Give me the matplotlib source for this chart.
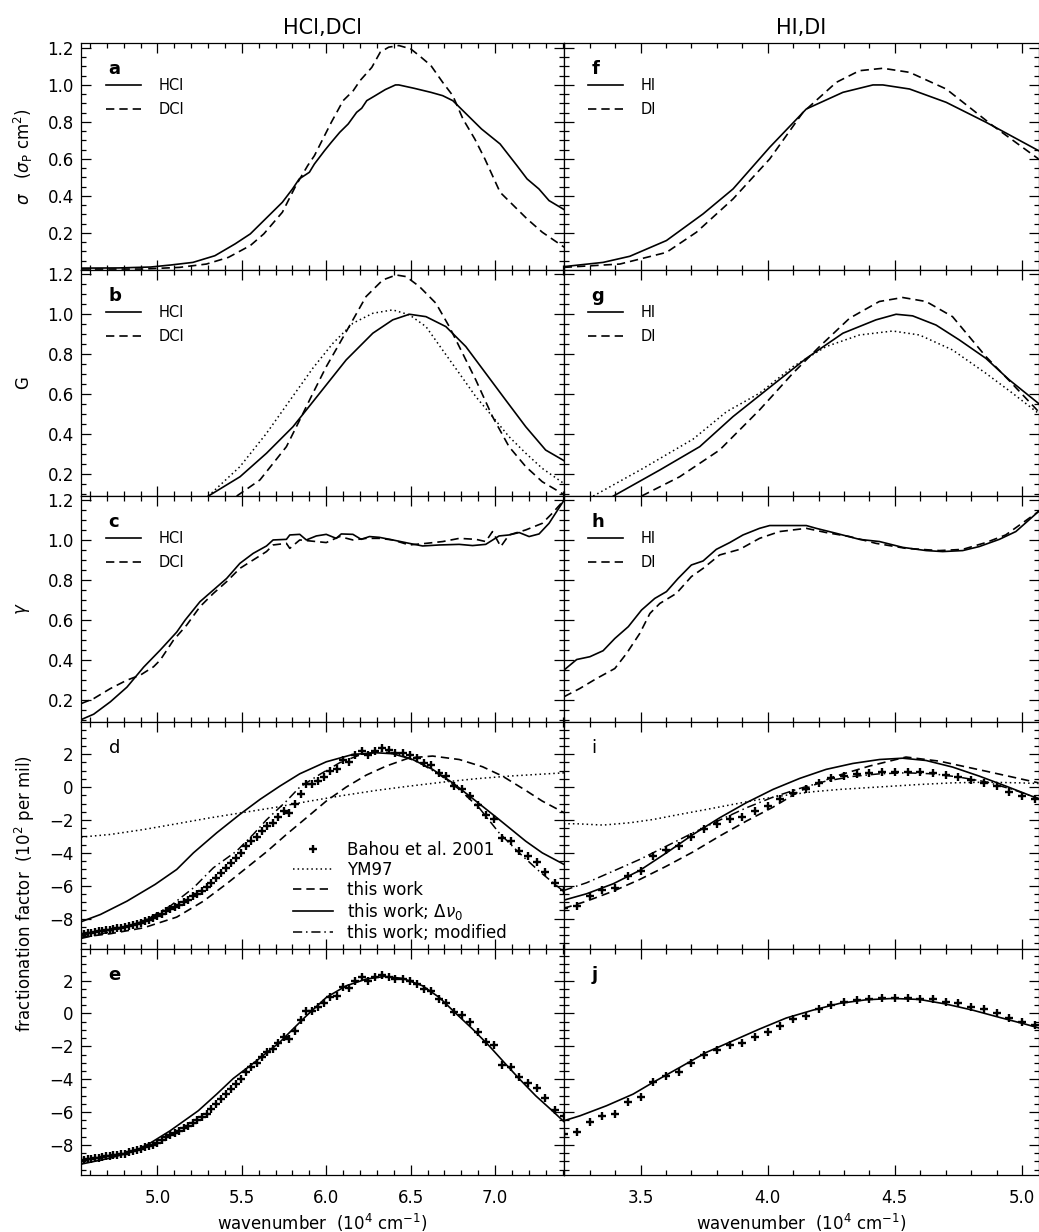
"""Photoabsorption cross sections, Gaussian fits, isotope ratios and
fractionation factors for HCl/DCl and HI/DI (ten stacked panels a-j).

Run:
    python plot.py      -> out.png
"""

import matplotlib
matplotlib.use("Agg")  # headless, no display
import matplotlib.pyplot as plt  # noqa: E402
from matplotlib.lines import Line2D  # noqa: E402
from matplotlib.ticker import FixedLocator, MultipleLocator  # noqa: E402

# ---------------------------------------------------------------- data
# wavenumbers in 1e4 cm^-1

# (a) cross sections, HCl / DCl
sig_hcl_x = [4.55, 4.77, 4.96, 5.08, 5.21, 5.34, 5.46, 5.55, 5.65, 5.74, 5.80, 5.84,
             5.90, 5.93, 5.99, 6.03, 6.08, 6.13, 6.18, 6.21, 6.24, 6.29, 6.35, 6.41,
             6.43, 6.52, 6.62, 6.69, 6.75, 6.81, 6.92, 7.03, 7.13, 7.19, 7.26, 7.32, 7.41]
sig_hcl_y = [0.01, 0.011, 0.016, 0.027, 0.041, 0.077, 0.141, 0.195, 0.285, 0.366, 0.438,
             0.492, 0.528, 0.573, 0.645, 0.690, 0.744, 0.789, 0.852, 0.874, 0.915, 0.942,
             0.975, 1.0, 1.0, 0.982, 0.96, 0.942, 0.915, 0.861, 0.762, 0.681, 0.564,
             0.492, 0.438, 0.375, 0.326]
sig_dcl_x = [4.55, 4.91, 5.13, 5.29, 5.42, 5.55, 5.63, 5.74, 5.82, 5.89, 5.93, 5.98,
             6.03, 6.10, 6.16, 6.20, 6.27, 6.32, 6.37, 6.43, 6.50, 6.55, 6.62, 6.69,
             6.75, 6.81, 6.88, 6.94, 7.03, 7.11, 7.19, 7.28, 7.41]
sig_dcl_y = [0.005, 0.005, 0.014, 0.032, 0.068, 0.132, 0.195, 0.312, 0.456, 0.564, 0.618,
             0.708, 0.798, 0.915, 0.969, 1.023, 1.095, 1.177, 1.204, 1.213, 1.195, 1.159,
             1.105, 1.014, 0.942, 0.816, 0.708, 0.600, 0.420, 0.348, 0.276, 0.204, 0.123]

# (f) cross sections, HI / DI
sig_hi_x = [3.198, 3.353, 3.458, 3.602, 3.746, 3.864, 4.008, 4.152, 4.296, 4.414,
            4.453, 4.558, 4.702, 4.859, 5.065]
sig_hi_y = [0.018, 0.041, 0.074, 0.159, 0.303, 0.438, 0.663, 0.870, 0.960, 1.0,
            1.0, 0.978, 0.906, 0.798, 0.645]
sig_di_x = [3.198, 3.419, 3.602, 3.720, 3.864, 4.008, 4.139, 4.270, 4.361, 4.453,
            4.558, 4.702, 4.885, 5.065]
sig_di_y = [0.014, 0.032, 0.095, 0.204, 0.384, 0.600, 0.852, 1.014, 1.077, 1.090,
            1.068, 0.978, 0.780, 0.600]

# (b) G, HCl / DCl / YM97
g_hcl_x = [5.301, 5.489, 5.646, 5.803, 5.961, 6.118, 6.276, 6.394, 6.493, 6.591,
           6.709, 6.827, 6.945, 7.063, 7.182, 7.300, 7.41]
g_hcl_y = [0.088, 0.185, 0.303, 0.436, 0.604, 0.771, 0.905, 0.972, 1.0, 0.988,
           0.938, 0.838, 0.704, 0.570, 0.436, 0.319, 0.265]
g_dcl_x = [5.469, 5.607, 5.764, 5.843, 5.921, 6.000, 6.079, 6.158, 6.236, 6.335, 6.414,
           6.473, 6.552, 6.650, 6.729, 6.808, 6.886, 6.985, 7.083, 7.182, 7.280, 7.41]
g_dcl_y = [0.088, 0.169, 0.336, 0.470, 0.604, 0.737, 0.854, 0.972, 1.089, 1.172, 1.197,
           1.189, 1.139, 1.055, 0.938, 0.804, 0.671, 0.487, 0.336, 0.236, 0.160, 0.095]
g_ym_hcl_x = [5.301, 5.489, 5.646, 5.803, 5.921, 6.039, 6.158, 6.276, 6.394, 6.493,
              6.591, 6.689, 6.788, 6.886, 6.985, 7.083, 7.182, 7.280, 7.41]
g_ym_hcl_y = [0.088, 0.236, 0.403, 0.590, 0.730, 0.854, 0.955, 1.005, 1.022, 0.997,
              0.938, 0.821, 0.704, 0.587, 0.487, 0.386, 0.303, 0.227, 0.15]

# (g) G, HI / DI / YM97
g_hi_x = [3.393, 3.576, 3.733, 3.864, 3.995, 4.152, 4.296, 4.426, 4.505, 4.570,
          4.662, 4.754, 4.858, 4.950, 5.065]
g_hi_y = [0.088, 0.219, 0.336, 0.487, 0.620, 0.779, 0.905, 0.972, 1.0, 0.992,
          0.946, 0.871, 0.779, 0.671, 0.553]
g_di_x = [3.504, 3.654, 3.811, 3.968, 4.099, 4.204, 4.322, 4.439, 4.531, 4.623,
          4.727, 4.858, 4.950, 5.065]
g_di_y = [0.088, 0.185, 0.319, 0.520, 0.704, 0.838, 0.980, 1.064, 1.084, 1.064,
          0.988, 0.788, 0.667, 0.512]
g_ym_hi_x = [3.314, 3.510, 3.707, 3.838, 3.968, 4.099, 4.230, 4.361, 4.492, 4.597,
             4.727, 4.858, 4.963, 5.065]
g_ym_hi_y = [0.088, 0.227, 0.374, 0.511, 0.604, 0.737, 0.838, 0.896, 0.916, 0.896,
             0.821, 0.704, 0.604, 0.503]

# (c) gamma, HCl / DCl
gam_hcl_x = [4.548, 4.622, 4.721, 4.819, 4.918, 5.016, 5.114, 5.164, 5.252, 5.331,
             5.410, 5.488, 5.567, 5.646, 5.685, 5.764, 5.784, 5.843, 5.882, 5.941,
             6.000, 6.059, 6.089, 6.158, 6.207, 6.256, 6.315, 6.394, 6.492, 6.571,
             6.670, 6.788, 6.867, 6.945, 7.024, 7.083, 7.143, 7.202, 7.261, 7.320, 7.41]
gam_hcl_y = [0.103, 0.130, 0.192, 0.265, 0.365, 0.450, 0.540, 0.600, 0.692, 0.750,
             0.808, 0.883, 0.933, 0.970, 1.0, 1.003, 1.025, 1.028, 1.0, 1.02,
             1.028, 1.008, 1.03, 1.028, 1.003, 1.017, 1.013, 1.0, 0.983, 0.970,
             0.975, 0.978, 0.972, 0.978, 1.02, 1.025, 1.037, 1.017, 1.03, 1.083, 1.2]
gam_dcl_x = [4.548, 4.622, 4.721, 4.819, 4.898, 4.977, 5.016, 5.095, 5.173, 5.252,
             5.331, 5.410, 5.488, 5.567, 5.646, 5.685, 5.764, 5.784, 5.843, 5.941,
             6.000, 6.079, 6.158, 6.237, 6.315, 6.394, 6.492, 6.591, 6.690, 6.788,
             6.887, 6.945, 6.985, 7.034, 7.083, 7.182, 7.280, 7.339, 7.41]
gam_dcl_y = [0.183, 0.208, 0.258, 0.300, 0.325, 0.367, 0.400, 0.500, 0.575, 0.667,
             0.733, 0.792, 0.858, 0.900, 0.942, 0.975, 0.983, 0.958, 1.0, 0.992,
             0.987, 1.017, 1.0, 1.008, 1.008, 1.0, 0.975, 0.983, 0.992, 1.008,
             1.003, 0.992, 1.042, 0.967, 1.025, 1.05, 1.083, 1.133, 1.2]

# (h) gamma, HI / DI
gam_hi_x = [3.199, 3.249, 3.301, 3.353, 3.399, 3.452, 3.504, 3.556, 3.602, 3.648,
            3.700, 3.746, 3.798, 3.851, 3.903, 3.968, 4.008, 4.073, 4.152, 4.191,
            4.270, 4.361, 4.440, 4.531, 4.623, 4.688, 4.767, 4.832, 4.911, 4.976, 5.065]
gam_hi_y = [0.35, 0.403, 0.417, 0.447, 0.508, 0.567, 0.65, 0.708, 0.742, 0.808,
            0.875, 0.895, 0.953, 0.987, 1.025, 1.058, 1.072, 1.072, 1.072, 1.058,
            1.033, 1.003, 0.992, 0.963, 0.947, 0.942, 0.947, 0.967, 1.003, 1.042, 1.142]
gam_di_x = [3.199, 3.261, 3.327, 3.399, 3.445, 3.497, 3.537, 3.576, 3.641, 3.700,
            3.746, 3.811, 3.890, 3.968, 4.047, 4.152, 4.230, 4.322, 4.426, 4.544,
            4.675, 4.767, 4.858, 4.936, 5.065]
gam_di_y = [0.217, 0.258, 0.308, 0.358, 0.433, 0.533, 0.633, 0.683, 0.733, 0.817,
            0.858, 0.925, 0.953, 1.008, 1.042, 1.058, 1.037, 1.017, 0.983, 0.958,
            0.947, 0.953, 0.987, 1.025, 1.142]

# Bahou et al. 2001 fractionation factors (10^2 per mil), HCl side
bahou_hcl_x = [4.545, 4.566, 4.587, 4.608, 4.630, 4.651, 4.673, 4.695, 4.717, 4.739,
               4.762, 4.785, 4.808, 4.831, 4.854, 4.878, 4.902, 4.926, 4.950, 4.975,
               5.000, 5.025, 5.051, 5.076, 5.102, 5.128, 5.155, 5.181, 5.208, 5.236,
               5.263, 5.291, 5.319, 5.348, 5.376, 5.405, 5.435, 5.464, 5.495, 5.525,
               5.556, 5.587, 5.618, 5.650, 5.682, 5.714, 5.747, 5.780, 5.814, 5.848,
               5.882, 5.917, 5.952, 5.988, 6.024, 6.061, 6.098, 6.135, 6.173, 6.211,
               6.250, 6.289, 6.329, 6.369, 6.410, 6.452, 6.494, 6.536, 6.579, 6.623,
               6.667, 6.711, 6.757, 6.803, 6.849, 6.897, 6.944, 6.993, 7.042, 7.092,
               7.143, 7.194, 7.246, 7.299, 7.353, 7.407]
bahou_hcl_y = [-8.95, -8.92, -8.87, -8.85, -8.80, -8.77, -8.74, -8.70, -8.67, -8.63,
               -8.60, -8.57, -8.53, -8.43, -8.40, -8.33, -8.27, -8.15, -8.09, -7.99,
               -7.87, -7.71, -7.55, -7.42, -7.28, -7.15, -6.98, -6.84, -6.65, -6.49,
               -6.33, -6.09, -5.82, -5.52, -5.21, -4.91, -4.60, -4.30, -4.00, -3.59,
               -3.29, -3.04, -2.68, -2.37, -2.17, -1.83, -1.46, -1.56, -1.05, -0.41,
               0.16, 0.16, 0.37, 0.61, 0.97, 1.08, 1.62, 1.54, 1.95, 2.19,
               1.95, 2.19, 2.36, 2.23, 2.07, 2.07, 1.95, 1.79, 1.46, 1.34,
               0.87, 0.65, 0.06, -0.10, -0.55, -1.11, -1.72, -1.93, -3.12, -3.29,
               -3.89, -4.22, -4.56, -5.15, -5.86, -6.25]

# Bahou et al. 2001, HI side
bahou_hi_x = [3.20, 3.25, 3.30, 3.35, 3.40, 3.45, 3.50, 3.55, 3.60, 3.65, 3.70, 3.75,
              3.80, 3.85, 3.90, 3.95, 4.00, 4.05, 4.10, 4.15, 4.20, 4.25, 4.30, 4.35,
              4.40, 4.45, 4.50, 4.55, 4.60, 4.65, 4.70, 4.75, 4.80, 4.85, 4.90, 4.95,
              5.00, 5.05]
bahou_hi_y = [-7.34, -7.24, -6.63, -6.27, -6.15, -5.38, -5.09, -4.20, -3.83, -3.59,
              -3.02, -2.52, -2.23, -1.91, -1.83, -1.44, -1.16, -0.75, -0.34, -0.14,
              0.26, 0.53, 0.69, 0.81, 0.87, 0.91, 0.93, 0.91, 0.89, 0.87, 0.71, 0.63,
              0.41, 0.24, 0.04, -0.28, -0.53, -0.73]

# (d) model curves, HCl/DCl
fr_ym_hcl_x = [4.548, 4.721, 4.918, 5.114, 5.311, 5.499, 5.705, 5.902, 6.099, 6.296,
               6.492, 6.689, 6.887, 7.083, 7.41]
fr_ym_hcl_y = [-3.04, -2.88, -2.58, -2.23, -1.87, -1.56, -1.22, -0.85, -0.51, -0.20,
               0.06, 0.30, 0.51, 0.67, 0.87]
fr_this_hcl_x = [4.548, 4.721, 4.918, 5.114, 5.272, 5.410, 5.528, 5.646, 5.764, 5.882,
                 6.000, 6.118, 6.237, 6.355, 6.492, 6.630, 6.788, 6.926, 7.044, 7.182,
                 7.280, 7.41]
fr_this_hcl_y = [-9.13, -8.92, -8.56, -7.91, -6.94, -5.88, -4.91, -3.94, -2.88, -1.87,
                 -0.85, 0.0, 0.73, 1.28, 1.78, 1.89, 1.68, 1.24, 0.67, -0.20,
                 -0.85, -1.56]
fr_dnu_hcl_x = [4.548, 4.662, 4.819, 4.986, 5.114, 5.213, 5.351, 5.488, 5.607, 5.725,
                5.843, 6.000, 6.158, 6.296, 6.394, 6.512, 6.630, 6.749, 6.887, 7.024,
                7.182, 7.280, 7.41]
fr_dnu_hcl_y = [-8.19, -7.75, -6.94, -5.92, -5.01, -4.00, -2.78, -1.66, -0.75, 0.06,
                0.81, 1.54, 1.99, 2.09, 2.03, 1.68, 1.08, 0.26, -0.85, -1.97,
                -3.29, -4.00, -4.71]
fr_mod_hcl_x = [4.548, 4.721, 4.918, 5.075, 5.213, 5.331, 5.469, 5.567, 5.646, 5.764,
                5.843, 5.961, 6.079, 6.197, 6.315, 6.434, 6.552, 6.670, 6.788, 6.906,
                7.024, 7.143, 7.261, 7.41]
fr_mod_hcl_y = [-9.21, -8.80, -8.15, -7.24, -6.13, -4.91, -3.89, -2.88, -1.99, -0.85,
                0.0, 0.77, 1.48, 1.95, 2.19, 1.99, 1.48, 0.77, -0.14, -1.26,
                -2.78, -4.00, -5.11, -6.38]

# (i) model curves, HI/DI
fr_ym_hi_x = [3.198, 3.249, 3.353, 3.458, 3.550, 3.654, 3.759, 3.864, 3.968, 4.073,
              4.178, 4.283, 4.387, 4.492, 4.597, 4.727, 4.858, 4.989, 5.065]
fr_ym_hi_y = [-2.23, -2.23, -2.31, -2.17, -1.97, -1.66, -1.36, -1.05, -0.75, -0.49,
              -0.28, -0.14, -0.04, 0.06, 0.16, 0.26, 0.30, 0.26, 0.22]
fr_this_hi_x = [3.198, 3.288, 3.393, 3.497, 3.602, 3.707, 3.811, 3.916, 4.021, 4.126,
                4.256, 4.400, 4.544, 4.675, 4.858, 5.065]
fr_this_hi_y = [-7.38, -6.94, -6.33, -5.62, -4.81, -3.94, -2.98, -2.07, -1.22, -0.24,
                0.61, 1.28, 1.83, 1.58, 0.97, 0.26]
fr_dnu_hi_x = [3.198, 3.288, 3.393, 3.497, 3.602, 3.707, 3.811, 3.916, 4.021, 4.126,
               4.230, 4.335, 4.440, 4.531, 4.623, 4.727, 4.832, 4.937, 5.065]
fr_dnu_hi_y = [-6.88, -6.49, -5.88, -5.07, -4.00, -2.88, -1.87, -0.95, -0.14, 0.53,
               1.08, 1.44, 1.68, 1.76, 1.62, 1.22, 0.67, 0.06, -0.71]
fr_mod_hi_x = [3.198, 3.288, 3.393, 3.497, 3.602, 3.707, 3.811, 3.916, 4.021, 4.126,
               4.230, 4.335, 4.440, 4.544, 4.649, 4.753, 4.858, 4.963, 5.065]
fr_mod_hi_y = [-6.29, -5.82, -5.11, -4.40, -3.59, -2.78, -2.01, -1.26, -0.61, -0.08,
               0.37, 0.65, 0.81, 0.87, 0.81, 0.61, 0.32, -0.14, -0.69]

# (e) / (j) best model
fr_best_hcl_x = [4.548, 4.721, 4.878, 4.957, 5.075, 5.242, 5.351, 5.449, 5.587, 5.725,
                 5.803, 5.882, 6.000, 6.118, 6.237, 6.345, 6.453, 6.571, 6.670, 6.768,
                 6.867, 6.965, 7.054, 7.142, 7.241, 7.339, 7.41]
fr_best_hcl_y = [-9.17, -8.80, -8.32, -7.89, -7.14, -5.92, -4.91, -3.96, -2.88, -1.75,
                 -0.95, -0.15, 0.97, 1.68, 2.09, 2.25, 2.13, 1.68, 0.97, 0.0,
                 -0.95, -1.97, -2.98, -3.96, -5.01, -5.92, -6.60]
fr_best_hi_x = [3.199, 3.262, 3.366, 3.471, 3.549, 3.654, 3.759, 3.864, 3.968, 4.073,
                4.178, 4.283, 4.387, 4.492, 4.597, 4.701, 4.806, 4.911, 5.015, 5.065]
fr_best_hi_y = [-6.53, -6.23, -5.62, -4.91, -4.20, -3.29, -2.37, -1.66, -0.95, -0.28,
                0.20, 0.61, 0.83, 0.91, 0.85, 0.57, 0.20, -0.24, -0.66, -0.88]

# axis set-up
xlim_hcl = (4.545, 7.407)
xlim_hi = (3.198, 5.065)
ylim_rows = [(0.002, 1.225), (0.089, 1.224), (0.09, 1.22), (-9.82, 3.95), (-9.82, 3.95)]
yticks_ratio = [0.2, 0.4, 0.6, 0.8, 1.0, 1.2]
yticks_frac = [-8, -6, -4, -2, 0, 2]

# ---------------------------------------------------------------- layout
FIG_W, FIG_H = 1039, 1232
LEFT_X0 = 80.7 / FIG_W
LEFT_W = 483.0 / FIG_W
RIGHT_X0 = 563.7 / FIG_W
RIGHT_W = 474.8 / FIG_W
TOP = 1 - 43.3 / FIG_H
ROW_H = 226.3 / FIG_H

SOLID = dict(color="k", lw=1.2, ls="-")
DASH = dict(color="k", lw=1.2, ls=(0, (5, 3)))
DOT = dict(color="k", lw=1.1, ls=(0, (1, 2)))
DDOT = dict(color="k", lw=1.1, ls=(0, (6, 2.5, 1, 2.5)))
PLUS = dict(color="k", ls="none", marker="+", ms=5.5, mew=1.7)


def dress(ax, xlim, ylim, yticks, yminor, bottom, left):
    ax.set_xlim(*xlim)
    ax.set_ylim(*ylim)
    ax.xaxis.set_major_locator(MultipleLocator(0.5))
    ax.xaxis.set_minor_locator(MultipleLocator(0.1))
    ax.yaxis.set_major_locator(FixedLocator(yticks))
    ax.yaxis.set_minor_locator(MultipleLocator(yminor))
    ax.tick_params(which="both", direction="in", top=True, right=True,
                   labelbottom=bottom, labelleft=left, labelsize=12, width=0.9)
    ax.tick_params(which="major", length=7)
    ax.tick_params(which="minor", length=3.5)
    ax.tick_params(axis="x", pad=10)
    ax.tick_params(axis="y", pad=5)
    for s in ax.spines.values():
        s.set_linewidth(0.9)


def tag(ax, letter, bold=True):
    ax.text(0.058, 0.885, letter, transform=ax.transAxes, fontsize=13,
            fontweight="bold" if bold else "normal", ha="left", va="center")


def pair_legend(ax, names):
    handles = [Line2D([], [], **SOLID), Line2D([], [], **DASH)]
    ax.legend(handles, names, loc="upper left", bbox_to_anchor=(0.052, 0.845),
              frameon=False, fontsize=10.5, handlelength=2.4, handletextpad=1.2,
              labelspacing=0.62, borderpad=0, borderaxespad=0)


def main():
    plt.rcParams["font.family"] = ["DejaVu Sans"]
    plt.rcParams["mathtext.fontset"] = "dejavusans"

    fig = plt.figure(figsize=(FIG_W / 100, FIG_H / 100), dpi=100)
    rows = []
    for r in range(5):
        y0 = TOP - (r + 1) * ROW_H
        rows.append((fig.add_axes([LEFT_X0, y0, LEFT_W, ROW_H]),
                     fig.add_axes([RIGHT_X0, y0, RIGHT_W, ROW_H])))

    for r, (al, ar) in enumerate(rows):
        ratio = r < 3
        yt = yticks_ratio if ratio else yticks_frac
        ym = 0.05 if ratio else 0.5
        dress(al, xlim_hcl, ylim_rows[r], yt, ym, r == 4, True)
        dress(ar, xlim_hi, ylim_rows[r], yt, ym, r == 4, False)

    # row 1: cross sections
    a, f = rows[0]
    a.plot(sig_hcl_x, sig_hcl_y, **SOLID)
    a.plot(sig_dcl_x, sig_dcl_y, **DASH)
    f.plot(sig_hi_x, sig_hi_y, **SOLID)
    f.plot(sig_di_x, sig_di_y, **DASH)

    # row 2: G
    b, g = rows[1]
    b.plot(g_hcl_x, g_hcl_y, **SOLID)
    b.plot(g_dcl_x, g_dcl_y, **DASH)
    b.plot(g_ym_hcl_x, g_ym_hcl_y, **DOT)
    g.plot(g_hi_x, g_hi_y, **SOLID)
    g.plot(g_di_x, g_di_y, **DASH)
    g.plot(g_ym_hi_x, g_ym_hi_y, **DOT)

    # row 3: gamma
    c, h = rows[2]
    c.plot(gam_hcl_x, gam_hcl_y, **SOLID)
    c.plot(gam_dcl_x, gam_dcl_y, **DASH)
    h.plot(gam_hi_x, gam_hi_y, **SOLID)
    h.plot(gam_di_x, gam_di_y, **DASH)

    # row 4: fractionation, all models
    d, i = rows[3]
    d.plot(fr_ym_hcl_x, fr_ym_hcl_y, **DOT)
    d.plot(fr_this_hcl_x, fr_this_hcl_y, **DASH)
    d.plot(fr_dnu_hcl_x, fr_dnu_hcl_y, **SOLID)
    d.plot(fr_mod_hcl_x, fr_mod_hcl_y, **DDOT)
    d.plot(bahou_hcl_x, bahou_hcl_y, **PLUS)
    i.plot(fr_ym_hi_x, fr_ym_hi_y, **DOT)
    i.plot(fr_this_hi_x, fr_this_hi_y, **DASH)
    i.plot(fr_dnu_hi_x, fr_dnu_hi_y, **SOLID)
    i.plot(fr_mod_hi_x, fr_mod_hi_y, **DDOT)
    i.plot(bahou_hi_x, bahou_hi_y, **PLUS)

    # row 5: fractionation, best model
    e, j = rows[4]
    e.plot(fr_best_hcl_x, fr_best_hcl_y, **SOLID)
    e.plot(bahou_hcl_x, bahou_hcl_y, **PLUS)
    j.plot(fr_best_hi_x, fr_best_hi_y, **SOLID)
    j.plot(bahou_hi_x, bahou_hi_y, **PLUS)

    for ax, letter in zip([a, b, c, e, f, g, h, j], "abcefghj"):
        tag(ax, letter)
    tag(d, "d", bold=False)
    tag(i, "i", bold=False)

    for ax in (a, b, c):
        pair_legend(ax, ["HCl", "DCl"])
    for ax in (f, g, h):
        pair_legend(ax, ["HI", "DI"])

    handles = [Line2D([], [], **PLUS), Line2D([], [], **DOT), Line2D([], [], **DASH),
               Line2D([], [], **SOLID), Line2D([], [], **DDOT)]
    labels = ["Bahou et al. 2001", "YM97", "this work",
              r"this work; $\Delta\nu_0$", "this work; modified"]
    d.legend(handles, labels, loc="upper left", bbox_to_anchor=(0.44, 0.475),
             frameon=False, fontsize=12, numpoints=1, handlelength=2.4,
             handletextpad=0.8, labelspacing=0.12, borderpad=0, borderaxespad=0)

    a.set_title("HCl,DCl", fontsize=15, pad=7)
    f.set_title("HI,DI", fontsize=15, pad=7)
    for ax in (e, j):
        ax.set_xlabel(r"wavenumber  (10$^4$ cm$^{-1}$)", fontsize=12, labelpad=4)

    lab = dict(rotation=90, ha="center", va="center", fontsize=12)
    fig.text(23 / FIG_W, 1 - 157 / FIG_H, r"$\sigma$   ($\sigma_{\rm P}$ cm$^2$)", **lab)
    fig.text(23 / FIG_W, 1 - 383 / FIG_H, "G", **lab)
    fig.text(23 / FIG_W, 1 - 609 / FIG_H, r"$\gamma$", **lab)
    fig.text(25 / FIG_W, 1 - 894 / FIG_H, r"fractionation factor  (10$^2$ per mil)", **lab)

    fig.savefig("out.png", dpi=100)
    plt.close(fig)
    return 0


if __name__ == "__main__":
    raise SystemExit(main())
